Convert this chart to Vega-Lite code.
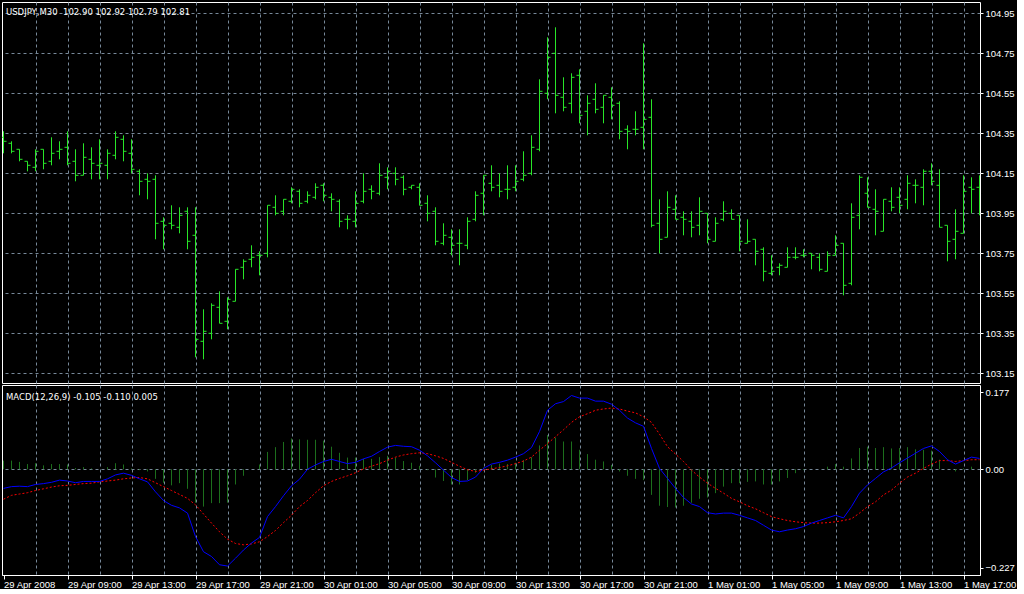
{
  "$schema": "https://vega.github.io/schema/vega-lite/v6.json",
  "background": "#000000",
  "padding": {"left": 1, "top": 1, "right": 0, "bottom": 0},
  "autosize": {"type": "pad"},
  "spacing": 0,
  "config": {
    "view": {"stroke": "#ffffff", "strokeWidth": 1},
    "axis": {
      "labelFont": "Liberation Sans",
      "labelFontSize": 9.5,
      "labelColor": "#ffffff",
      "domainColor": "#ffffff",
      "tickColor": "#ffffff",
      "gridColor": "#778899",
      "gridDash": [3, 3],
      "gridOpacity": 1,
      "title": null
    }
  },
  "datasets": {
    "bars": [
      {"i":0,"open":104.33,"high":104.36,"low":104.25,"close":104.31,"macd":-0.044,"signal":-0.069,"hist":0.020},
      {"i":1,"open":104.30,"high":104.31,"low":104.25,"close":104.26,"macd":-0.040,"signal":-0.060,"hist":0.020},
      {"i":2,"open":104.27,"high":104.27,"low":104.21,"close":104.22,"macd":-0.039,"signal":-0.057,"hist":0.017},
      {"i":3,"open":104.21,"high":104.21,"low":104.16,"close":104.19,"macd":-0.040,"signal":-0.054,"hist":0.012},
      {"i":4,"open":104.18,"high":104.27,"low":104.16,"close":104.26,"macd":-0.035,"signal":-0.049,"hist":0.014},
      {"i":5,"open":104.27,"high":104.27,"low":104.17,"close":104.20,"macd":-0.033,"signal":-0.045,"hist":0.009},
      {"i":6,"open":104.21,"high":104.33,"low":104.19,"close":104.25,"macd":-0.030,"signal":-0.041,"hist":0.012},
      {"i":7,"open":104.26,"high":104.31,"low":104.22,"close":104.27,"macd":-0.025,"signal":-0.038,"hist":0.012},
      {"i":8,"open":104.28,"high":104.36,"low":104.19,"close":104.20,"macd":-0.027,"signal":-0.037,"hist":0.011},
      {"i":9,"open":104.21,"high":104.27,"low":104.11,"close":104.14,"macd":-0.031,"signal":-0.035,"hist":0.003},
      {"i":10,"open":104.14,"high":104.30,"low":104.14,"close":104.23,"macd":-0.028,"signal":-0.033,"hist":0.005},
      {"i":11,"open":104.22,"high":104.28,"low":104.12,"close":104.20,"macd":-0.028,"signal":-0.032,"hist":0.002},
      {"i":12,"open":104.19,"high":104.32,"low":104.12,"close":104.20,"macd":-0.028,"signal":-0.029,"hist":0.000},
      {"i":13,"open":104.19,"high":104.27,"low":104.12,"close":104.25,"macd":-0.022,"signal":-0.027,"hist":0.005},
      {"i":14,"open":104.24,"high":104.36,"low":104.22,"close":104.33,"macd":-0.013,"signal":-0.025,"hist":0.014},
      {"i":15,"open":104.32,"high":104.34,"low":104.21,"close":104.26,"macd":-0.009,"signal":-0.022,"hist":0.011},
      {"i":16,"open":104.25,"high":104.32,"low":104.15,"close":104.17,"macd":-0.014,"signal":-0.020,"hist":0.002},
      {"i":17,"open":104.16,"high":104.17,"low":104.04,"close":104.11,"macd":-0.022,"signal":-0.019,"hist":-0.002},
      {"i":18,"open":104.12,"high":104.15,"low":104.02,"close":104.11,"macd":-0.029,"signal":-0.022,"hist":-0.005},
      {"i":19,"open":104.12,"high":104.14,"low":103.82,"close":103.90,"macd":-0.052,"signal":-0.031,"hist":-0.022},
      {"i":20,"open":103.91,"high":103.93,"low":103.77,"close":103.89,"macd":-0.072,"signal":-0.040,"hist":-0.031},
      {"i":21,"open":103.90,"high":103.99,"low":103.87,"close":103.89,"macd":-0.083,"signal":-0.049,"hist":-0.037},
      {"i":22,"open":103.88,"high":103.98,"low":103.85,"close":103.94,"macd":-0.089,"signal":-0.058,"hist":-0.032},
      {"i":23,"open":103.96,"high":103.98,"low":103.77,"close":103.81,"macd":-0.101,"signal":-0.067,"hist":-0.045},
      {"i":24,"open":103.84,"high":103.98,"low":103.23,"close":103.32,"macd":-0.155,"signal":-0.082,"hist":-0.077},
      {"i":25,"open":103.31,"high":103.47,"low":103.22,"close":103.36,"macd":-0.190,"signal":-0.103,"hist":-0.086},
      {"i":26,"open":103.35,"high":103.50,"low":103.32,"close":103.49,"macd":-0.201,"signal":-0.124,"hist":-0.078},
      {"i":27,"open":103.48,"high":103.56,"low":103.40,"close":103.40,"macd":-0.220,"signal":-0.144,"hist":-0.078},
      {"i":28,"open":103.41,"high":103.53,"low":103.37,"close":103.52,"macd":-0.223,"signal":-0.161,"hist":-0.077},
      {"i":29,"open":103.51,"high":103.67,"low":103.51,"close":103.67,"macd":-0.205,"signal":-0.171,"hist":-0.035},
      {"i":30,"open":103.68,"high":103.72,"low":103.62,"close":103.71,"macd":-0.186,"signal":-0.174,"hist":-0.015},
      {"i":31,"open":103.72,"high":103.79,"low":103.68,"close":103.73,"macd":-0.170,"signal":-0.172,"hist":0.000},
      {"i":32,"open":103.74,"high":103.76,"low":103.64,"close":103.74,"macd":-0.157,"signal":-0.167,"hist":0.011},
      {"i":33,"open":103.75,"high":103.99,"low":103.73,"close":103.99,"macd":-0.109,"signal":-0.155,"hist":0.040},
      {"i":34,"open":103.98,"high":104.04,"low":103.94,"close":103.95,"macd":-0.086,"signal":-0.141,"hist":0.051},
      {"i":35,"open":103.96,"high":104.02,"low":103.94,"close":104.02,"macd":-0.061,"signal":-0.123,"hist":0.063},
      {"i":36,"open":104.01,"high":104.08,"low":104.00,"close":104.07,"macd":-0.038,"signal":-0.106,"hist":0.071},
      {"i":37,"open":104.06,"high":104.07,"low":103.98,"close":104.00,"macd":-0.023,"signal":-0.086,"hist":0.069},
      {"i":38,"open":104.01,"high":104.06,"low":104.00,"close":104.04,"macd":0.000,"signal":-0.072,"hist":0.068},
      {"i":39,"open":104.03,"high":104.10,"low":104.02,"close":104.08,"macd":0.010,"signal":-0.054,"hist":0.068},
      {"i":40,"open":104.09,"high":104.10,"low":104.01,"close":104.04,"macd":0.018,"signal":-0.038,"hist":0.066},
      {"i":41,"open":104.03,"high":104.05,"low":103.96,"close":104.02,"macd":0.023,"signal":-0.028,"hist":0.052},
      {"i":42,"open":104.01,"high":104.02,"low":103.88,"close":103.91,"macd":0.018,"signal":-0.021,"hist":0.038},
      {"i":43,"open":103.92,"high":103.94,"low":103.87,"close":103.92,"macd":0.013,"signal":-0.015,"hist":0.027},
      {"i":44,"open":103.91,"high":104.06,"low":103.88,"close":104.00,"macd":0.016,"signal":-0.008,"hist":0.027},
      {"i":45,"open":104.01,"high":104.15,"low":104.00,"close":104.06,"macd":0.024,"signal":0.001,"hist":0.024},
      {"i":46,"open":104.07,"high":104.09,"low":104.02,"close":104.06,"macd":0.030,"signal":0.007,"hist":0.024},
      {"i":47,"open":104.05,"high":104.20,"low":104.04,"close":104.14,"macd":0.041,"signal":0.013,"hist":0.028},
      {"i":48,"open":104.13,"high":104.18,"low":104.07,"close":104.16,"macd":0.051,"signal":0.021,"hist":0.031},
      {"i":49,"open":104.15,"high":104.18,"low":104.09,"close":104.12,"macd":0.055,"signal":0.028,"hist":0.027},
      {"i":50,"open":104.13,"high":104.14,"low":104.04,"close":104.07,"macd":0.053,"signal":0.033,"hist":0.019},
      {"i":51,"open":104.08,"high":104.09,"low":104.07,"close":104.09,"macd":0.052,"signal":0.036,"hist":0.015},
      {"i":52,"open":104.08,"high":104.10,"low":103.99,"close":103.99,"macd":0.044,"signal":0.038,"hist":0.008},
      {"i":53,"open":104.00,"high":104.04,"low":103.91,"close":103.95,"macd":0.031,"signal":0.036,"hist":-0.002},
      {"i":54,"open":103.96,"high":103.98,"low":103.79,"close":103.81,"macd":0.015,"signal":0.031,"hist":-0.019},
      {"i":55,"open":103.80,"high":103.90,"low":103.79,"close":103.84,"macd":-0.002,"signal":0.025,"hist":-0.027},
      {"i":56,"open":103.83,"high":103.87,"low":103.74,"close":103.79,"macd":-0.019,"signal":0.016,"hist":-0.035},
      {"i":57,"open":103.80,"high":103.87,"low":103.69,"close":103.80,"macd":-0.028,"signal":0.007,"hist":-0.035},
      {"i":58,"open":103.79,"high":103.93,"low":103.77,"close":103.91,"macd":-0.027,"signal":-0.001,"hist":-0.025},
      {"i":59,"open":103.92,"high":104.06,"low":103.91,"close":104.04,"macd":-0.018,"signal":-0.005,"hist":-0.008},
      {"i":60,"open":104.05,"high":104.14,"low":103.94,"close":104.14,"macd":0.002,"signal":-0.002,"hist":0.004},
      {"i":61,"open":104.10,"high":104.19,"low":104.06,"close":104.08,"macd":0.012,"signal":0.001,"hist":0.010},
      {"i":62,"open":104.09,"high":104.15,"low":104.03,"close":104.06,"macd":0.016,"signal":0.004,"hist":0.013},
      {"i":63,"open":104.07,"high":104.19,"low":104.02,"close":104.07,"macd":0.021,"signal":0.008,"hist":0.012},
      {"i":64,"open":104.08,"high":104.19,"low":104.06,"close":104.11,"macd":0.028,"signal":0.013,"hist":0.015},
      {"i":65,"open":104.12,"high":104.26,"low":104.11,"close":104.14,"macd":0.036,"signal":0.019,"hist":0.021},
      {"i":66,"open":104.15,"high":104.34,"low":104.14,"close":104.28,"macd":0.050,"signal":0.028,"hist":0.028},
      {"i":67,"open":104.27,"high":104.62,"low":104.26,"close":104.56,"macd":0.087,"signal":0.044,"hist":0.055},
      {"i":68,"open":104.55,"high":104.83,"low":104.52,"close":104.73,"macd":0.136,"signal":0.059,"hist":0.079},
      {"i":69,"open":104.75,"high":104.88,"low":104.45,"close":104.54,"macd":0.151,"signal":0.075,"hist":0.073},
      {"i":70,"open":104.53,"high":104.63,"low":104.46,"close":104.48,"macd":0.156,"signal":0.091,"hist":0.064},
      {"i":71,"open":104.50,"high":104.65,"low":104.45,"close":104.63,"macd":0.170,"signal":0.108,"hist":0.064},
      {"i":72,"open":104.64,"high":104.67,"low":104.40,"close":104.44,"macd":0.164,"signal":0.121,"hist":0.045},
      {"i":73,"open":104.46,"high":104.54,"low":104.34,"close":104.50,"macd":0.164,"signal":0.128,"hist":0.035},
      {"i":74,"open":104.52,"high":104.60,"low":104.45,"close":104.47,"macd":0.157,"signal":0.136,"hist":0.022},
      {"i":75,"open":104.48,"high":104.54,"low":104.40,"close":104.54,"macd":0.157,"signal":0.139,"hist":0.018},
      {"i":76,"open":104.53,"high":104.58,"low":104.42,"close":104.49,"macd":0.150,"signal":0.141,"hist":0.010},
      {"i":77,"open":104.50,"high":104.51,"low":104.32,"close":104.36,"macd":0.136,"signal":0.139,"hist":-0.005},
      {"i":78,"open":104.37,"high":104.39,"low":104.27,"close":104.36,"macd":0.118,"signal":0.134,"hist":-0.015},
      {"i":79,"open":104.37,"high":104.46,"low":104.34,"close":104.37,"macd":0.107,"signal":0.130,"hist":-0.022},
      {"i":80,"open":104.38,"high":104.80,"low":104.27,"close":104.42,"macd":0.099,"signal":0.121,"hist":-0.025},
      {"i":81,"open":104.43,"high":104.52,"low":103.88,"close":103.89,"macd":0.048,"signal":0.108,"hist":-0.059},
      {"i":82,"open":103.90,"high":104.02,"low":103.75,"close":103.82,"macd":0.002,"signal":0.081,"hist":-0.084},
      {"i":83,"open":103.83,"high":104.06,"low":103.83,"close":103.98,"macd":-0.021,"signal":0.052,"hist":-0.087},
      {"i":84,"open":103.97,"high":104.04,"low":103.92,"close":103.92,"macd":-0.044,"signal":0.035,"hist":-0.088},
      {"i":85,"open":103.93,"high":103.96,"low":103.84,"close":103.92,"macd":-0.065,"signal":0.018,"hist":-0.084},
      {"i":86,"open":103.91,"high":103.96,"low":103.83,"close":103.88,"macd":-0.080,"signal":-0.002,"hist":-0.077},
      {"i":87,"open":103.89,"high":104.03,"low":103.84,"close":103.96,"macd":-0.086,"signal":-0.018,"hist":-0.068},
      {"i":88,"open":103.95,"high":103.95,"low":103.80,"close":103.82,"macd":-0.100,"signal":-0.032,"hist":-0.065},
      {"i":89,"open":103.81,"high":103.93,"low":103.81,"close":103.90,"macd":-0.103,"signal":-0.044,"hist":-0.055},
      {"i":90,"open":103.92,"high":104.01,"low":103.91,"close":103.96,"macd":-0.101,"signal":-0.055,"hist":-0.040},
      {"i":91,"open":103.95,"high":103.97,"low":103.92,"close":103.92,"macd":-0.101,"signal":-0.067,"hist":-0.032},
      {"i":92,"open":103.94,"high":103.94,"low":103.76,"close":103.81,"macd":-0.106,"signal":-0.075,"hist":-0.032},
      {"i":93,"open":103.80,"high":103.92,"low":103.80,"close":103.81,"macd":-0.112,"signal":-0.084,"hist":-0.029},
      {"i":94,"open":103.82,"high":103.82,"low":103.69,"close":103.76,"macd":-0.118,"signal":-0.091,"hist":-0.028},
      {"i":95,"open":103.77,"high":103.78,"low":103.61,"close":103.66,"macd":-0.129,"signal":-0.100,"hist":-0.035},
      {"i":96,"open":103.65,"high":103.74,"low":103.64,"close":103.66,"macd":-0.140,"signal":-0.109,"hist":-0.035},
      {"i":97,"open":103.68,"high":103.70,"low":103.64,"close":103.69,"macd":-0.144,"signal":-0.114,"hist":-0.028},
      {"i":98,"open":103.68,"high":103.78,"low":103.68,"close":103.73,"macd":-0.140,"signal":-0.118,"hist":-0.020},
      {"i":99,"open":103.73,"high":103.78,"low":103.72,"close":103.73,"macd":-0.137,"signal":-0.121,"hist":-0.009},
      {"i":100,"open":103.74,"high":103.77,"low":103.73,"close":103.74,"macd":-0.132,"signal":-0.123,"hist":-0.002},
      {"i":101,"open":103.75,"high":103.75,"low":103.67,"close":103.74,"macd":-0.124,"signal":-0.124,"hist":0.000},
      {"i":102,"open":103.73,"high":103.75,"low":103.66,"close":103.67,"macd":-0.118,"signal":-0.124,"hist":0.000},
      {"i":103,"open":103.66,"high":103.76,"low":103.66,"close":103.74,"macd":-0.112,"signal":-0.123,"hist":0.006},
      {"i":104,"open":103.74,"high":103.84,"low":103.74,"close":103.79,"macd":-0.106,"signal":-0.121,"hist":0.012},
      {"i":105,"open":103.80,"high":103.80,"low":103.54,"close":103.59,"macd":-0.112,"signal":-0.118,"hist":0.006},
      {"i":106,"open":103.60,"high":104.00,"low":103.59,"close":103.93,"macd":-0.086,"signal":-0.114,"hist":0.025},
      {"i":107,"open":103.94,"high":104.14,"low":103.87,"close":104.13,"macd":-0.055,"signal":-0.101,"hist":0.049},
      {"i":108,"open":104.05,"high":104.13,"low":103.98,"close":103.98,"macd":-0.036,"signal":-0.086,"hist":0.052},
      {"i":109,"open":103.97,"high":104.07,"low":103.84,"close":103.96,"macd":-0.021,"signal":-0.075,"hist":0.049},
      {"i":110,"open":103.86,"high":104.02,"low":103.86,"close":104.02,"macd":-0.006,"signal":-0.059,"hist":0.051},
      {"i":111,"open":104.01,"high":104.08,"low":103.96,"close":103.98,"macd":0.003,"signal":-0.048,"hist":0.048},
      {"i":112,"open":104.03,"high":104.08,"low":103.95,"close":103.99,"macd":0.015,"signal":-0.032,"hist":0.049},
      {"i":113,"open":104.02,"high":104.14,"low":103.97,"close":104.10,"macd":0.026,"signal":-0.018,"hist":0.051},
      {"i":114,"open":104.09,"high":104.12,"low":104.00,"close":104.09,"macd":0.037,"signal":-0.009,"hist":0.046},
      {"i":115,"open":104.08,"high":104.17,"low":103.99,"close":104.16,"macd":0.048,"signal":0.002,"hist":0.045},
      {"i":116,"open":104.16,"high":104.20,"low":104.09,"close":104.11,"macd":0.054,"signal":0.012,"hist":0.043},
      {"i":117,"open":104.09,"high":104.17,"low":103.88,"close":103.88,"macd":0.041,"signal":0.020,"hist":0.022},
      {"i":118,"open":103.89,"high":103.89,"low":103.71,"close":103.81,"macd":0.022,"signal":0.020,"hist":0.000},
      {"i":119,"open":103.82,"high":103.97,"low":103.72,"close":103.86,"macd":0.012,"signal":0.018,"hist":-0.005},
      {"i":120,"open":103.85,"high":104.14,"low":103.85,"close":104.06,"macd":0.020,"signal":0.020,"hist":0.002},
      {"i":121,"open":104.08,"high":104.13,"low":103.95,"close":104.07,"macd":0.028,"signal":0.022,"hist":0.006},
      {"i":122,"open":104.08,"high":104.14,"low":103.94,"close":104.10,"macd":0.025,"signal":0.022,"hist":0.000}
    ]
  },
  "vconcat": [
    {
      "width": 978,
      "height": 381,
      "title": {"text": "USDJPY,M30\u00a0 102.90 102.92 102.79 102.81", "offset": -21, "dx": 4, "anchor": "start", "frame": "group", "baseline": "alphabetic", "font": "DejaVu Sans", "fontSize": 8.5, "fontWeight": "normal", "color": "#ffffff"},
      "data": {"name": "bars"},
      "encoding": {
        "x": {
          "field": "i", "type": "quantitative",
          "scale": {"domain": [-0.1875, 122.0625], "nice": false, "zero": false},
          "axis": {
            "values": [0,4,8,12,16,20,24,28,32,36,40,44,48,52,56,60,64,68,72,76,80,84,88,92,96,100,104,108,112,116,120],
            "labels": false, "ticks": false, "domain": false, "grid": true,
            "gridOpacity": {"condition": {"test": "datum.value > 0", "value": 1}, "value": 0}
          }
        }
      },
      "layer": [
        {
          "mark": {"type": "rule", "color": "#28e628", "strokeWidth": 1, "clip": true},
          "encoding": {
            "y": {
              "field": "low", "type": "quantitative",
              "scale": {"domain": [103.1015, 105.0065], "nice": false, "zero": false},
              "axis": {
                "orient": "right",
                "values": [103.15,103.35,103.55,103.75,103.95,104.15,104.35,104.55,104.75,104.95],
                "format": ".2f", "tickSize": 3, "labelPadding": 2, "grid": true, "domain": false
              }
            },
            "y2": {"field": "high"}
          }
        },
        {
          "mark": {"type": "rule", "color": "#28e628", "strokeWidth": 1, "xOffset": -3, "x2Offset": 0, "clip": true},
          "encoding": {"x2": {"field": "i"}, "y": {"field": "open", "type": "quantitative"}, "y2": {"field": "open"}}
        },
        {
          "mark": {"type": "rule", "color": "#28e628", "strokeWidth": 1, "xOffset": 0, "x2Offset": 3, "clip": true},
          "encoding": {"x2": {"field": "i"}, "y": {"field": "close", "type": "quantitative"}, "y2": {"field": "close"}}
        }
      ]
    },
    {
      "width": 978,
      "height": 190,
      "title": {"text": "MACD(12,26,9) -0.105 -0.110 0.005", "offset": -23, "dx": 4, "anchor": "start", "frame": "group", "baseline": "alphabetic", "font": "DejaVu Sans", "fontSize": 8.5, "fontWeight": "normal", "color": "#ffffff"},
      "data": {"name": "bars"},
      "encoding": {
        "x": {
          "field": "i", "type": "quantitative",
          "scale": {"domain": [-0.1875, 122.0625], "nice": false, "zero": false},
          "axis": {
            "values": [0,4,8,12,16,20,24,28,32,36,40,44,48,52,56,60,64,68,72,76,80,84,88,92,96,100,104,108,112,116,120],
            "labelExpr": "datum.value % 8 == 0 ? (datum.value == 0 ? '29 Apr 2008' : timeFormat(datetime(2008, 3, 29, 5 + datum.value / 2, 0), '%-d %b %H:%M')) : ''",
            "labelAlign": "left", "labelPadding": 0, "labelFlush": false, "labelOverlap": false, "labelBound": false,
            "tickSize": 4,
            "tickOpacity": {"condition": {"test": "datum.value % 8 == 0", "value": 1}, "value": 0},
            "grid": true,
            "gridOpacity": {"condition": {"test": "datum.value > 0", "value": 1}, "value": 0},
            "domain": true
          }
        }
      },
      "layer": [
        {
          "mark": {"type": "rule", "color": "#1c6e1c", "strokeWidth": 1, "clip": true},
          "encoding": {
            "y": {
              "field": "hist", "type": "quantitative",
              "scale": {"domain": [-0.2436, 0.1942], "nice": false, "zero": false},
              "axis": {
                "orient": "right",
                "values": [-0.227, 0, 0.177],
                "labelExpr": "datum.value == 0 ? '0.00' : format(datum.value, '.3f')",
                "tickSize": 3, "labelPadding": 2, "grid": true, "domain": false,
                "gridOpacity": {"condition": {"test": "datum.value == 0", "value": 1}, "value": 0}
              }
            },
            "y2": {"datum": 0}
          }
        },
        {
          "mark": {"type": "line", "color": "#ff0000", "strokeWidth": 1, "strokeDash": [2, 2], "clip": true},
          "encoding": {"y": {"field": "signal", "type": "quantitative"}}
        },
        {
          "mark": {"type": "line", "color": "#0000ff", "strokeWidth": 1, "clip": true},
          "encoding": {"y": {"field": "macd", "type": "quantitative"}}
        }
      ]
    }
  ]
}
